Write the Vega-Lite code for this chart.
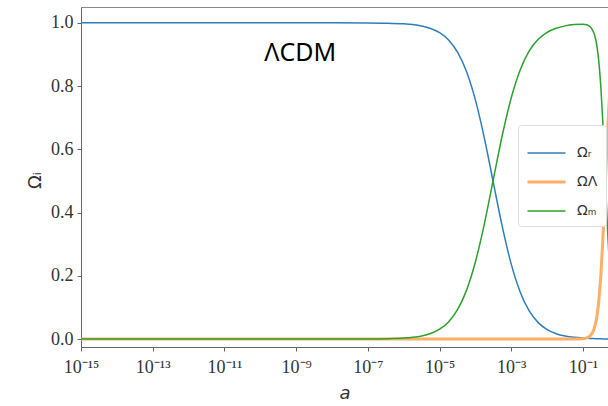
{
  "$schema": "https://vega.github.io/schema/vega-lite/v6.json",
  "autosize": {"type": "none"},
  "padding": {"left": 81, "top": 7, "right": 0, "bottom": 59},
  "width": 527,
  "height": 340,
  "background": "white",
  "config": {
    "view": {"stroke": "#888", "strokeWidth": 1},
    "axis": {"grid": false, "domainColor": "#666", "tickColor": "#666", "labelColor": "#333", "titleColor": "#333", "labelFont": "Liberation Serif", "labelFontSize": 18, "tickSize": 4}
  },
  "datasets": {
    "omega": [
      {"a": 1e-15, "r": 1, "L": 0, "m": 0},
      {"a": 1e-12, "r": 1, "L": 0, "m": 0},
      {"a": 1e-9, "r": 1, "L": 0, "m": 0},
      {"a": 1e-8, "r": 0.99997, "L": 0, "m": 0.00003},
      {"a": 1e-7, "r": 0.9997, "L": 0, "m": 0.0003},
      {"a": 3.162e-7, "r": 0.999, "L": 0, "m": 0.001},
      {"a": 1e-6, "r": 0.9968, "L": 0, "m": 0.0032},
      {"a": 1.778e-6, "r": 0.9943, "L": 0, "m": 0.0057},
      {"a": 3.162e-6, "r": 0.9899, "L": 0, "m": 0.0101},
      {"a": 5.623e-6, "r": 0.9821, "L": 0, "m": 0.0179},
      {"a": 1e-5, "r": 0.9687, "L": 0, "m": 0.0313},
      {"a": 1.778e-5, "r": 0.9456, "L": 0, "m": 0.0544},
      {"a": 3.162e-5, "r": 0.9072, "L": 0, "m": 0.0928},
      {"a": 5.623e-5, "r": 0.846, "L": 0, "m": 0.154},
      {"a": 1e-4, "r": 0.7555, "L": 0, "m": 0.2445},
      {"a": 1.778e-4, "r": 0.6348, "L": 0, "m": 0.3652},
      {"a": 3.162e-4, "r": 0.4942, "L": 0, "m": 0.5058},
      {"a": 5.623e-4, "r": 0.3546, "L": 0, "m": 0.6454},
      {"a": 1e-3, "r": 0.2361, "L": 0, "m": 0.7639},
      {"a": 1.778e-3, "r": 0.1481, "L": 0, "m": 0.8519},
      {"a": 3.162e-3, "r": 0.089, "L": 0, "m": 0.911},
      {"a": 5.623e-3, "r": 0.0521, "L": 0, "m": 0.9479},
      {"a": 0.01, "r": 0.03, "L": 0, "m": 0.97},
      {"a": 0.01778, "r": 0.0171, "L": 0, "m": 0.9829},
      {"a": 0.03162, "r": 0.0097, "L": 0, "m": 0.9903},
      {"a": 0.05623, "r": 0.0055, "L": 0.0001, "m": 0.9944},
      {"a": 0.1, "r": 0.0031, "L": 0.0012, "m": 0.9957},
      {"a": 0.1259, "r": 0.0024, "L": 0.0036, "m": 0.994},
      {"a": 0.1585, "r": 0.0019, "L": 0.0104, "m": 0.9876},
      {"a": 0.1995, "r": 0.0015, "L": 0.0298, "m": 0.9687},
      {"a": 0.2239, "r": 0.0013, "L": 0.0499, "m": 0.9488},
      {"a": 0.2512, "r": 0.0011, "L": 0.0824, "m": 0.9165},
      {"a": 0.2818, "r": 0.001, "L": 0.1329, "m": 0.8661},
      {"a": 0.3162, "r": 0.0008, "L": 0.2077, "m": 0.7915},
      {"a": 0.3548, "r": 0.0006, "L": 0.3092, "m": 0.6902},
      {"a": 0.3981, "r": 0.0004, "L": 0.4334, "m": 0.5662},
      {"a": 0.4467, "r": 0.0003, "L": 0.5662, "m": 0.4335},
      {"a": 0.5012, "r": 0.0002, "L": 0.6906, "m": 0.3092},
      {"a": 0.5623, "r": 0.0002, "L": 0.792, "m": 0.2079}
    ],
    "label": [{"a": 1.3e-9, "omega": 0.905, "label": "ΛCDM"}]
  },
  "encoding": {
    "x": {"field": "a", "type": "quantitative",
      "scale": {"type": "log", "domain": [1e-15, 0.497], "nice": false},
      "axis": {"values": [1e-15, 1e-13, 1e-11, 1e-9, 1e-7, 1e-5, 1e-3, 1e-1],
        "labelExpr": "'10⁻' + (abs(round(log(datum.value)/LN10)) >= 10 ? '¹' : '') + ['⁰','¹','²','³','⁴','⁵','⁶','⁷','⁸','⁹'][abs(round(log(datum.value)/LN10)) % 10]",
        "labelPadding": 7, "labelFlush": false,
        "title": "a", "titleFont": "DejaVu Sans", "titleFontStyle": "italic", "titleFontWeight": "normal", "titleFontSize": 18,
        "titleY": 37, "titleBaseline": "top"}},
    "y": {"field": "omega", "type": "quantitative",
      "scale": {"domain": [-0.025, 1.05], "nice": false, "zero": false},
      "axis": {"values": [0, 0.2, 0.4, 0.6, 0.8, 1.0], "format": ".1f", "labelPadding": 4,
        "title": "Ωᵢ", "titleFont": "DejaVu Sans", "titleFontWeight": "normal", "titleFontSize": 18,
        "titleX": -46, "titleY": 173, "titleAlign": "center", "titleBaseline": "middle", "titleAngle": -90}}
  },
  "layer": [
    {
      "data": {"name": "omega"},
      "transform": [{"fold": ["r", "L", "m"], "as": ["series", "omega"]}],
      "mark": {"type": "line", "clip": true, "interpolate": "monotone"},
      "encoding": {
        "color": {"field": "series", "type": "nominal",
          "scale": {"domain": ["r", "L", "m"], "range": ["#2f7ebc", "#ffae66", "#2ca02c"]},
          "legend": {"orient": "none", "legendX": 437, "legendY": 118, "title": null,
            "symbolType": "stroke", "symbolSize": 1444, "symbolStrokeWidth": 1.5,
            "labelExpr": "datum.value === 'r' ? 'Ωᵣ' : datum.value === 'L' ? 'ΩΛ' : 'Ωₘ'",
            "labelFont": "DejaVu Sans", "labelFontSize": 14, "labelColor": "#333", "labelOffset": 10,
            "rowPadding": 1.5, "padding": 8, "strokeColor": "#ddd", "fillColor": "white", "cornerRadius": 3,
            "encode": {"symbols": {"update": {"strokeWidth": {"signal": "datum.value === 'L' ? 3 : 1.5"}}}}}},
        "strokeWidth": {"field": "series", "type": "nominal",
          "scale": {"type": "ordinal", "domain": ["r", "L", "m"], "range": [1.5, 3, 1.5]}, "legend": null}
      }
    },
    {
      "data": {"name": "label"},
      "mark": {"type": "text", "font": "Noto Sans", "fontSize": 25, "color": "black", "align": "center", "baseline": "middle"},
      "encoding": {"text": {"field": "label"}}
    }
  ]
}
